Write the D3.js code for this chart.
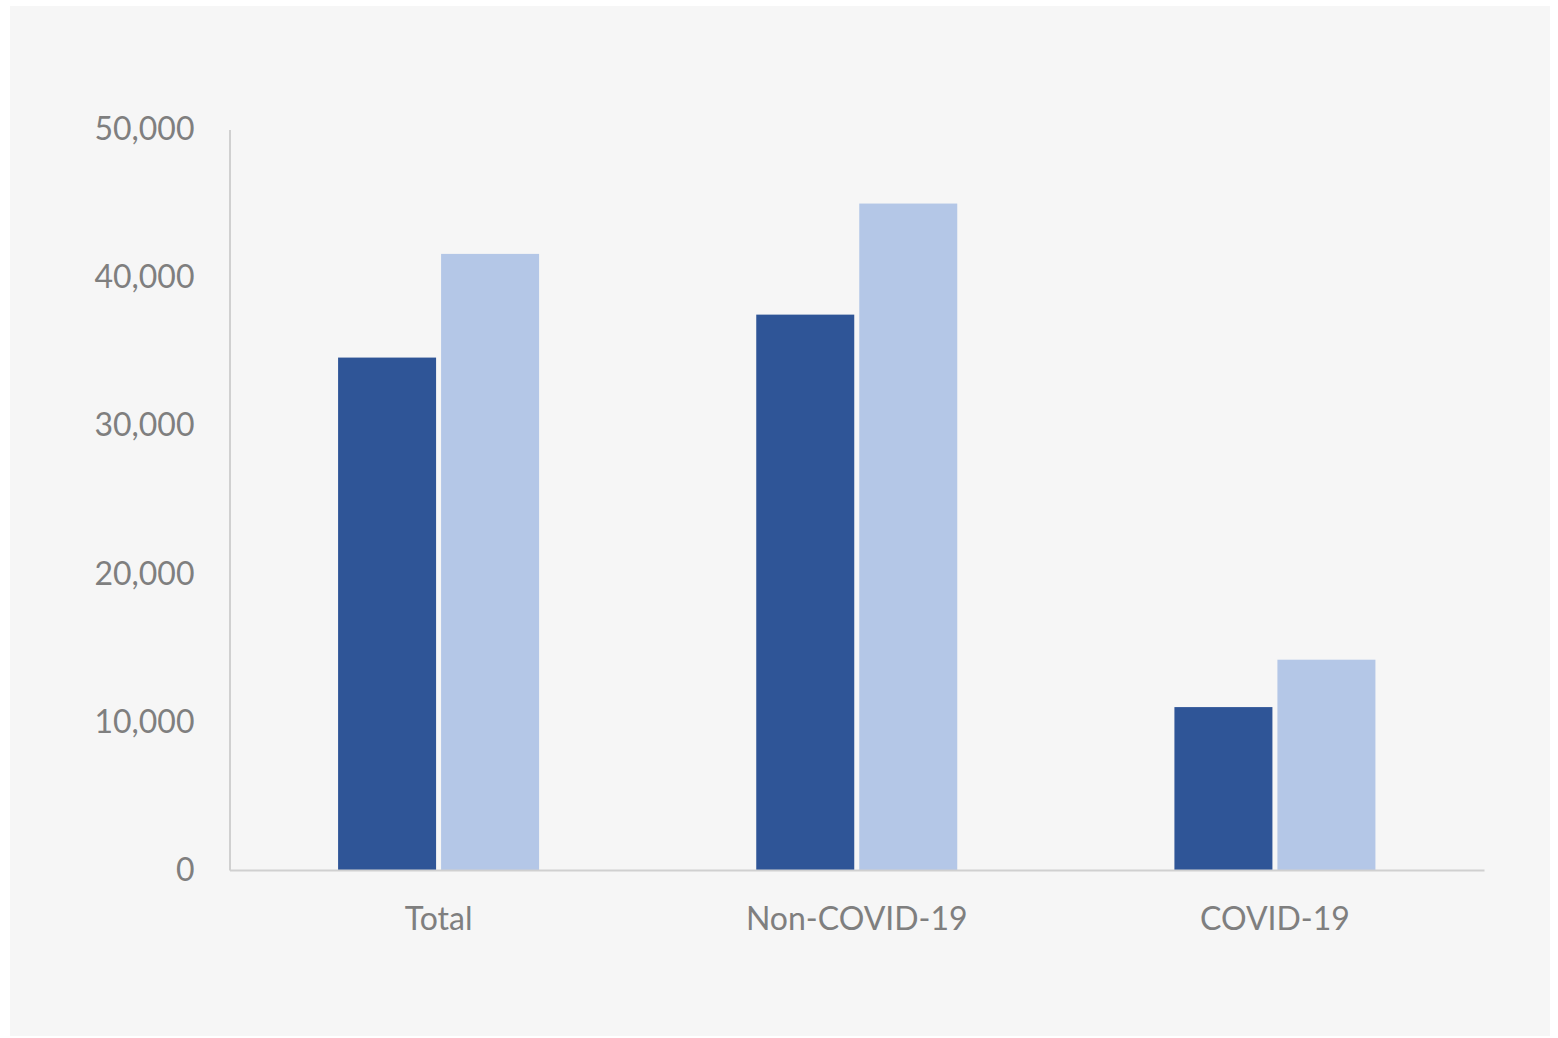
<!DOCTYPE html>
<html><head><meta charset="utf-8">
<script src="https://cdn.jsdelivr.net/npm/d3@7"></script>
<style>body{margin:0;background:#fff;}svg{display:block;}</style>
</head><body>
<svg id="c" width="1558" height="1038"></svg>
<script>
const categories = ["Total", "Non-COVID-19", "COVID-19"];
const seriesA = [34600, 37500, 11000];
const seriesB = [41600, 45000, 14200];
const yTicks = [0, 10000, 20000, 30000, 40000, 50000];

(function () {
const svg = d3.select("#c");
svg.append("rect").attr("x", 10).attr("y", 6).attr("width", 1540).attr("height", 1030).attr("fill", "#f6f6f6");

const mLeft = 229.5, mRight = 1484, mTop = 129.5, mBottom = 870;
const x = d3.scaleBand().domain(categories).range([mLeft, mRight]).paddingInner(0).paddingOuter(0);
const y = d3.scaleLinear().domain([0, 50000]).range([mBottom, mTop]);
const font = "Lato, 'Open Sans', sans-serif";
const barW = 98, gap = 5;

const data = categories.map((c, i) => ({c, a: seriesA[i], b: seriesB[i]}));
const g = svg.append("g");
data.forEach(d => {
  const cx = x(d.c) + x.bandwidth() / 2;
  g.append("rect").attr("x", cx - gap / 2 - barW).attr("y", y(d.a)).attr("width", barW).attr("height", y(0) - y(d.a)).attr("fill", "#2f5597");
  g.append("rect").attr("x", cx + gap / 2).attr("y", y(d.b)).attr("width", barW).attr("height", y(0) - y(d.b)).attr("fill", "#b4c7e7");
});

const yAxis = svg.append("g").attr("transform", `translate(${mLeft},0)`)
  .call(d3.axisLeft(y).tickValues(yTicks).tickSize(0).tickPadding(35).tickFormat(d3.format(",")));
yAxis.select(".domain").attr("stroke", "#d0d0d0").attr("stroke-width", 2);
yAxis.selectAll("text").attr("font-family", font).attr("font-size", 32).attr("fill", "#7f7f7f");

const xAxis = svg.append("g").attr("transform", `translate(0,${mBottom})`)
  .call(d3.axisBottom(x).tickSize(0).tickPadding(37));
xAxis.select(".domain").attr("stroke", "#d0d0d0").attr("stroke-width", 2);
xAxis.selectAll("text").attr("font-family", font).attr("font-size", 32).attr("fill", "#7f7f7f");
})();
</script>
</body></html>
